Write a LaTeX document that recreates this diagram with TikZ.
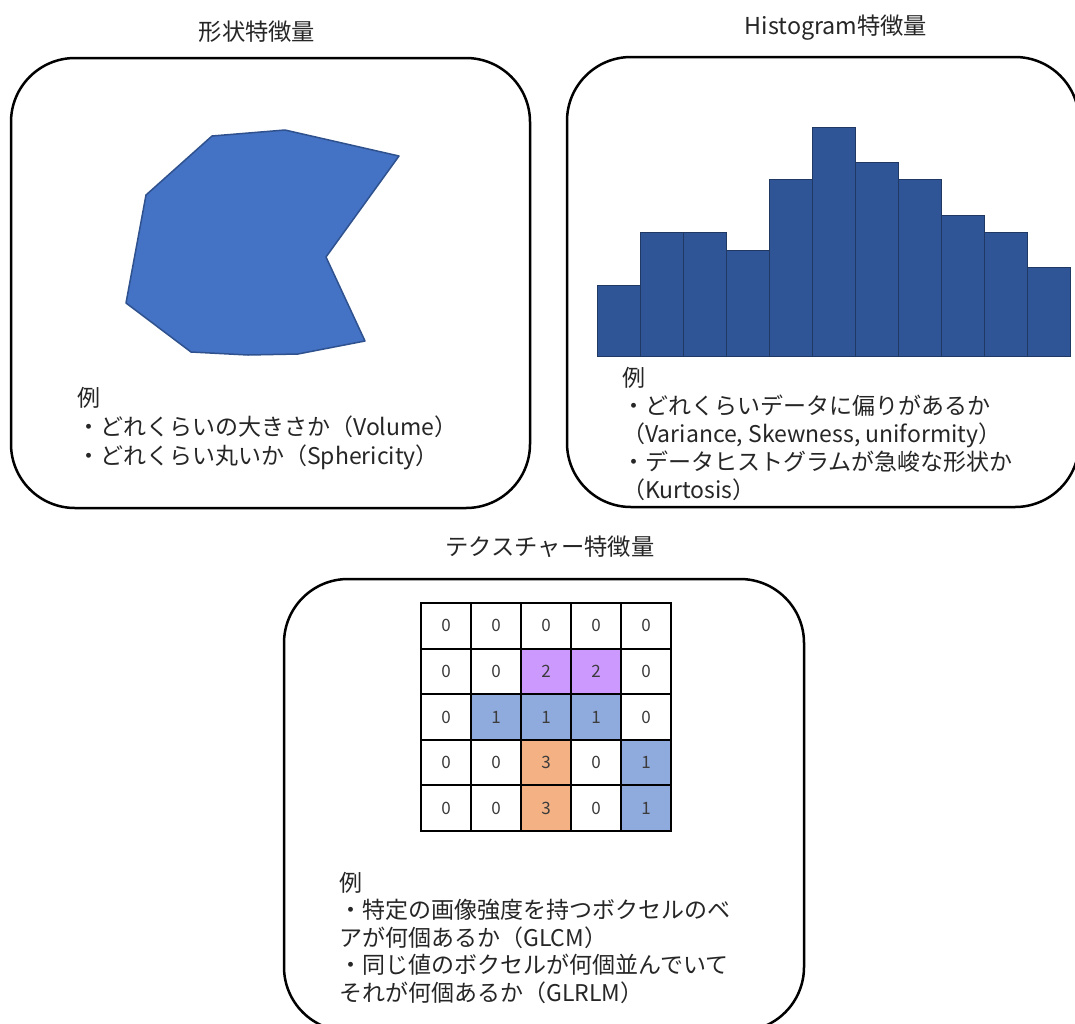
\documentclass[tikz,border=0pt]{standalone}
\usepackage{fontspec}
\setmainfont{Noto Sans CJK JP}
\definecolor{txt}{RGB}{38,38,38}
\definecolor{shapeblue}{RGB}{68,114,196}
\definecolor{shapeedge}{RGB}{47,82,143}
\definecolor{barblue}{RGB}{47,85,151}
\definecolor{baredge}{RGB}{31,56,100}
\definecolor{cpurple}{RGB}{204,153,255}
\definecolor{cblue}{RGB}{143,170,220}
\definecolor{corange}{RGB}{244,177,131}
\begin{document}
\begin{tikzpicture}[x=1pt,y=-1pt,
  panel/.style={draw=black,line width=2.5pt,rounded corners=64pt,inner sep=0pt},
  ttl/.style={text=txt,font=\fontsize{23.3}{28}\selectfont,inner sep=0pt,anchor=base},
  body/.style={text=txt,align=left,inner sep=0pt,anchor=base west},
  cell/.style={draw=black,line width=2pt,minimum width=50pt,minimum height=45.6pt,inner sep=0pt,
    text=txt!90,font=\fontsize{17}{18}\selectfont},
  bar/.style={fill=barblue,draw=baredge,line width=1pt}]
\clip (0,0) rectangle (1075,1023);
\fill[white] (0,0) rectangle (1075,1023);
% panels
\node[panel,minimum width=519pt,minimum height=450pt] (shapebox) at (270.5,283) {};
\node[panel,minimum width=512pt,minimum height=450pt] (histbox) at (823,282) {};
\node[panel,minimum width=520pt,minimum height=452pt] (texbox) at (544,805) {};
% titles
\node[ttl] (shapetitle) at (257,40) {形状特徴量};
\node[ttl] (histtitle) at (836,34) {Histogram特徴量};
\node[ttl] (textitle) at (550,555) {テクスチャー特徴量};
% shape polygon
\draw[fill=shapeblue,draw=shapeedge,line width=1.5pt,line join=round]
  (212,136) -- (285,130) -- (399,156) -- (326,257) -- (365,341) -- (298,354)
  -- (248,355) -- (191,352) -- (126,303) -- (146,195) -- cycle;
% histogram bars
\foreach \xa/\xb/\t in {597/640/285,640/683/232,683/726/232,726/769/250,769/812/179,
  812/855/127,855/898/162,898/941/179,941/984/215,984/1027/232,1027/1070/267}
  {\draw[bar] (\xa,356) rectangle (\xb,\t);}
% texts (anchor = baseline of the last line)
\node[body,font=\fontsize{23}{29}\selectfont] (shapetext) at (77,464)
  {例\\・どれくらいの大きさか（Volume）\\・どれくらい丸いか（Sphericity）};
\node[body,font=\fontsize{23}{28}\selectfont] (histtext) at (622,498)
  {例\\・どれくらいデータに偏りがあるか\\（Variance, Skewness, uniformity）\\・データヒストグラムが急峻な形状か\\（Kurtosis）};
\node[body,font=\fontsize{23}{27.5}\selectfont] (textext) at (339,1001)
  {例\\・特定の画像強度を持つボクセルのベ\\アが何個あるか（GLCM）\\・同じ値のボクセルが何個並んでいて\\それが何個あるか（GLRLM）};
% grid
\node[cell] (c11) at (446,625.8) {0};
\node[cell] (c12) at (496,625.8) {0};
\node[cell] (c13) at (546,625.8) {0};
\node[cell] (c14) at (596,625.8) {0};
\node[cell] (c15) at (646,625.8) {0};
\node[cell] (c21) at (446,671.4) {0};
\node[cell] (c22) at (496,671.4) {0};
\node[cell,fill=cpurple] (c23) at (546,671.4) {2};
\node[cell,fill=cpurple] (c24) at (596,671.4) {2};
\node[cell] (c25) at (646,671.4) {0};
\node[cell] (c31) at (446,717) {0};
\node[cell,fill=cblue] (c32) at (496,717) {1};
\node[cell,fill=cblue] (c33) at (546,717) {1};
\node[cell,fill=cblue] (c34) at (596,717) {1};
\node[cell] (c35) at (646,717) {0};
\node[cell] (c41) at (446,762.6) {0};
\node[cell] (c42) at (496,762.6) {0};
\node[cell,fill=corange] (c43) at (546,762.6) {3};
\node[cell] (c44) at (596,762.6) {0};
\node[cell,fill=cblue] (c45) at (646,762.6) {1};
\node[cell] (c51) at (446,808.2) {0};
\node[cell] (c52) at (496,808.2) {0};
\node[cell,fill=corange] (c53) at (546,808.2) {3};
\node[cell] (c54) at (596,808.2) {0};
\node[cell,fill=cblue] (c55) at (646,808.2) {1};
\end{tikzpicture}
\end{document}
